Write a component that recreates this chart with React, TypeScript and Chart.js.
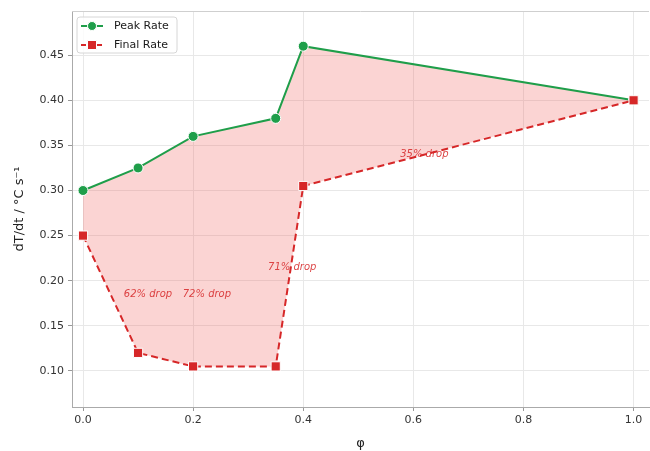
import React, { useEffect, useRef } from "react";
import { Chart, registerables } from "chart.js";

Chart.register(...registerables);

// Volume fraction φ and heating-rate series
const phi = [0, 0.1, 0.2, 0.35, 0.4, 1.0];
const peakRate = [0.3, 0.325, 0.36, 0.38, 0.46, 0.4];
const finalRate = [0.25, 0.12, 0.105, 0.105, 0.305, 0.4];

// Drop annotations (text with anchor in data coordinates)
const dropLabels = ["62% drop", "72% drop", "71% drop", "35% drop"];
const dropX = [0.118, 0.225, 0.38, 0.62];
const dropY = [0.185, 0.185, 0.215, 0.34];

const GREEN = "#1f9e4a";
const RED = "#d62728";
const FONT = "'DejaVu Sans', sans-serif";

const overlayPlugin = {
  id: "overlay",
  afterDatasetsDraw(chart: any) {
    const { ctx, scales } = chart;
    const xs = scales.x;
    const ys = scales.y;
    ctx.save();
    ctx.font = `italic 10px ${FONT}`;
    ctx.fillStyle = "rgba(214,39,40,0.85)";
    ctx.textAlign = "center";
    ctx.textBaseline = "middle";
    dropLabels.forEach((t, i) => {
      ctx.fillText(t, xs.getPixelForValue(dropX[i]), ys.getPixelForValue(dropY[i]));
    });
    ctx.restore();
  },
  afterDraw(chart: any) {
    const { ctx, chartArea } = chart;
    const bx = chartArea.left + 5;
    const by = chartArea.top + 6;
    const bw = 100;
    const bh = 36;
    ctx.save();
    ctx.fillStyle = "rgba(255,255,255,0.8)";
    ctx.strokeStyle = "#d6d6d6";
    ctx.lineWidth = 1;
    const r = 3;
    ctx.beginPath();
    ctx.moveTo(bx + r, by);
    ctx.arcTo(bx + bw, by, bx + bw, by + bh, r);
    ctx.arcTo(bx + bw, by + bh, bx, by + bh, r);
    ctx.arcTo(bx, by + bh, bx, by, r);
    ctx.arcTo(bx, by, bx + bw, by, r);
    ctx.closePath();
    ctx.fill();
    ctx.stroke();

    const entries = [
      { label: "Peak Rate", color: GREEN, dash: [] as number[], shape: "circle" },
      { label: "Final Rate", color: RED, dash: [5, 3], shape: "rect" },
    ];
    entries.forEach((e, i) => {
      const y = by + 9 + i * 19;
      const x0 = bx + 4;
      const x1 = bx + 26;
      ctx.strokeStyle = e.color;
      ctx.lineWidth = 2;
      ctx.setLineDash(e.dash);
      ctx.beginPath();
      ctx.moveTo(x0, y);
      ctx.lineTo(x1, y);
      ctx.stroke();
      ctx.setLineDash([]);
      const cx = (x0 + x1) / 2;
      ctx.fillStyle = e.color;
      ctx.strokeStyle = "#fff";
      ctx.lineWidth = 1;
      ctx.beginPath();
      if (e.shape === "circle") ctx.arc(cx, y, 4.5, 0, Math.PI * 2);
      else ctx.rect(cx - 4.5, y - 4.5, 9, 9);
      ctx.fill();
      ctx.stroke();
      ctx.fillStyle = "#1a1a1a";
      ctx.font = `11px ${FONT}`;
      ctx.textAlign = "left";
      ctx.textBaseline = "middle";
      ctx.fillText(e.label, bx + 37, y + 0.5);
    });
    ctx.restore();
  },
};

export default function App() {
  const canvasRef = useRef<HTMLCanvasElement | null>(null);

  useEffect(() => {
    document.body.style.margin = "0";
    const canvas = canvasRef.current;
    if (!canvas) return;
    const chart = new Chart(canvas, {
      type: "line",
      data: {
        datasets: [
          {
            label: "Peak Rate",
            data: phi.map((x, i) => ({ x, y: peakRate[i] })),
            borderColor: GREEN,
            backgroundColor: "rgba(239,83,80,0.25)",
            borderWidth: 2,
            pointRadius: 5,
            pointBackgroundColor: GREEN,
            pointBorderColor: "#fff",
            pointBorderWidth: 1,
            fill: "+1",
            tension: 0,
            order: 1,
          },
          {
            label: "Final Rate",
            data: phi.map((x, i) => ({ x, y: finalRate[i] })),
            borderColor: RED,
            borderWidth: 2,
            borderDash: [7, 4],
            pointStyle: "rect",
            pointRadius: 6.5,
            pointBackgroundColor: RED,
            pointBorderColor: "#fff",
            pointBorderWidth: 1,
            fill: false,
            tension: 0,
            order: 0,
          },
        ],
      },
      options: {
        animation: false,
        responsive: false,
        maintainAspectRatio: false,
        layout: { autoPadding: false, padding: { top: 11, right: 1, left: 0, bottom: 0 } },
        plugins: {
          legend: { display: false },
          tooltip: { enabled: false },
        },
        scales: {
          x: {
            type: "linear",
            min: -0.02,
            max: 1.028,
            afterFit(scale: any) {
              scale.height = 44;
              scale.paddingLeft = 0;
              scale.paddingRight = 0;
            },
            ticks: {
              stepSize: 0.2,
              includeBounds: false,
              color: "#333",
              font: { family: FONT, size: 11 },
              padding: 3,
              callback: (v: any) => Number(v).toFixed(1),
            },
            grid: {
              color: "#e8e8e8",
              tickColor: "#999",
              tickLength: 4,
            },
            border: { color: "#aaa", width: 1 },
            title: {
              display: true,
              text: "φ",
              color: "#222",
              font: { family: FONT, size: 13 },
              padding: { top: 4, bottom: 0 },
            },
          },
          y: {
            type: "linear",
            min: 0.06,
            max: 0.499,
            afterFit(scale: any) {
              scale.width = 72;
              scale.paddingTop = 0;
              scale.paddingBottom = 0;
            },
            ticks: {
              stepSize: 0.05,
              includeBounds: false,
              color: "#333",
              font: { family: FONT, size: 11 },
              padding: 4,
              callback: (v: any) => Number(v).toFixed(2),
            },
            grid: {
              color: "#e8e8e8",
              tickColor: "#999",
              tickLength: 4,
            },
            border: { color: "#aaa", width: 1 },
            title: {
              display: true,
              text: "dT/dt / °C s⁻¹",
              color: "#222",
              font: { family: FONT, size: 13 },
              padding: { top: 12, bottom: 6 },
            },
          },
        },
      },
      plugins: [
        overlayPlugin,
        {
          id: "topSpine",
          afterDraw(chart: any) {
            const { ctx, chartArea } = chart;
            ctx.save();
            ctx.strokeStyle = "#cfcfcf";
            ctx.lineWidth = 1;
            ctx.beginPath();
            ctx.moveTo(chartArea.left, chartArea.top + 0.5);
            ctx.lineTo(chartArea.right, chartArea.top + 0.5);
            ctx.stroke();
            ctx.restore();
          },
        },
      ],
    });
    return () => chart.destroy();
  }, []);

  return (
    <div style={{ width: 650, height: 451 }}>
      <canvas ref={canvasRef} width={650} height={451} />
    </div>
  );
}
